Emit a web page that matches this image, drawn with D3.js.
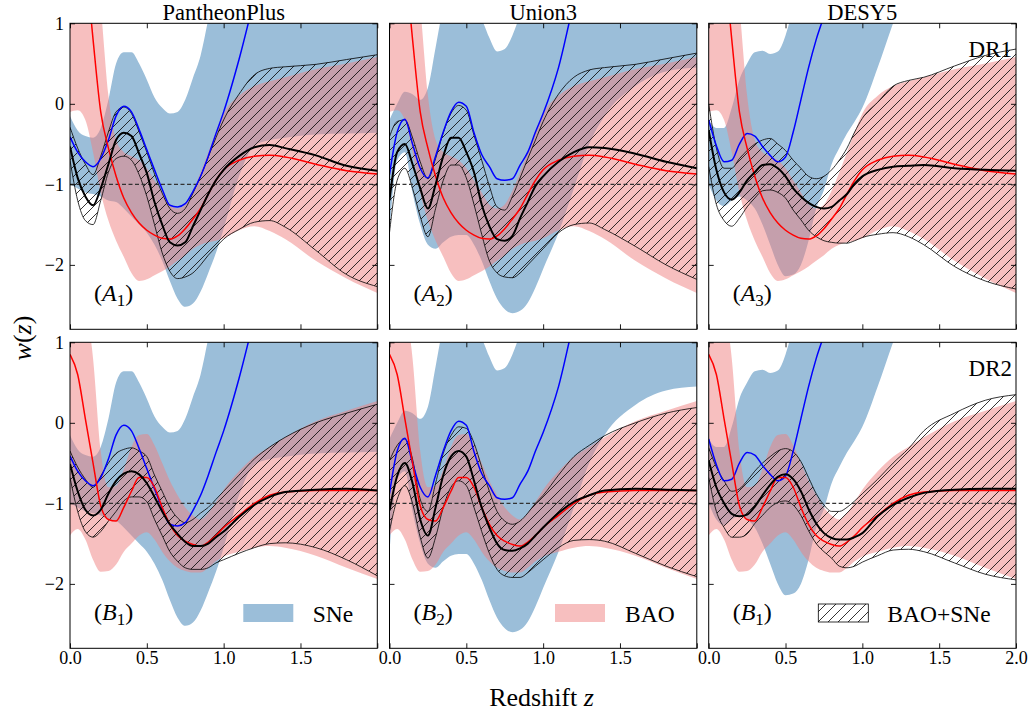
<!DOCTYPE html>
<html><head><meta charset="utf-8">
<script src="https://cdn.jsdelivr.net/npm/d3@7"></script>
<style>
body{margin:0;background:#fff;}
svg text{font-family:"Liberation Serif","Times New Roman",serif;fill:#000;}
</style></head><body>
<svg id="chart" width="1033" height="717"></svg>
<script>
// redshift grid shared by every series
const Z = [0,0.05,0.1,0.15,0.2,0.25,0.3,0.35,0.4,0.45,0.5,0.55,0.6,0.65,0.7,0.75,0.8,0.85,0.9,0.95,1.0,1.1,1.2,1.3,1.4,1.6,1.8,2.0];

// ---- SNe only ----
const snePPlusHi   = [-0.15,-0.33,-0.4,-0.42,-0.3,0.05,0.5,0.64,0.64,0.5,0.3,0.08,-0.05,-0.12,-0.1,0.05,0.32,0.6,1.05,1.5,1.8,2,2,2,2,2,2,2];
const snePPlusLo   = [-1.0,-1.05,-1.1,-1.12,-1.15,-1.2,-1.22,-1.3,-1.4,-1.5,-1.6,-1.75,-1.95,-2.2,-2.42,-2.52,-2.48,-2.33,-2.1,-1.85,-1.55,-0.9,-0.52,-0.45,-0.42,-0.38,-0.37,-0.36];
const snePPlusMean = [-0.41,-0.6,-0.72,-0.78,-0.68,-0.45,-0.15,-0.03,-0.1,-0.32,-0.57,-0.82,-1.06,-1.26,-1.28,-1.24,-1.09,-0.9,-0.65,-0.37,-0.1,0.55,1.3,2.0,2.8,4,5,6];

const sneUnion3Hi   = [-0.2,0.0,0.15,0.12,0.05,0.2,0.7,1.2,1.5,1.5,1.4,1.2,1.05,0.82,0.65,0.68,0.85,1.1,1.3,1.5,1.5,1.5,1.5,1.5,1.5,1.5,1.5,1.5];
const sneUnion3Lo   = [-1.6,-0.7,-0.6,-1.1,-1.5,-1.75,-1.8,-1.72,-1.65,-1.63,-1.63,-1.75,-1.95,-2.2,-2.42,-2.55,-2.6,-2.57,-2.47,-2.28,-2.05,-1.6,-1.05,-0.5,-0.15,0.22,0.4,0.45];
const sneUnion3Mean = [-0.88,-0.35,-0.19,-0.5,-0.8,-0.92,-0.65,-0.35,-0.1,0.02,-0.03,-0.36,-0.63,-0.78,-0.93,-0.95,-0.93,-0.76,-0.6,-0.35,-0.12,0.45,1.25,1.9,2.5,3.5,4.5,5.5];

const sneDESY5Hi   = [-0.2,-0.3,-0.3,-0.05,0.3,0.5,0.64,0.66,0.62,0.65,0.85,1.2,1.6,2,2.5,2.5,2.5,2.5,2.5,2.5,2.5,2.5,2.5,2.5,2.5,2.5,2.5,2.5];
const sneDESY5Lo   = [-1.0,-1.2,-1.27,-1.2,-1.15,-1.2,-1.3,-1.5,-1.75,-2.0,-2.14,-2.12,-2.0,-1.7,-1.3,-1.07,-0.75,-0.55,-0.37,-0.22,-0.05,0.45,1.0,1.5,2.0,2.3,2.4,2.5];
const sneDESY5Mean = [-0.2,-0.52,-0.72,-0.7,-0.5,-0.37,-0.4,-0.53,-0.64,-0.72,-0.66,-0.35,0.05,0.45,0.8,1.1,1.5,2,2.5,3,3.5,4.5,5.5,6.5,7.5,9,10,11];

// ---- BAO only ----
const baoDR1Hi   = [4,4,3,2,1.2,0.1,-0.45,-0.6,-0.65,-0.7,-0.8,-0.95,-1.1,-1.25,-1.3,-1.25,-1.08,-0.85,-0.6,-0.35,-0.12,0.1,0.22,0.28,0.33,0.43,0.5,0.58];
const baoDR1Lo   = [-0.1,-0.08,-0.2,-0.6,-1.1,-1.45,-1.7,-1.9,-2.1,-2.2,-2.18,-2.13,-2.08,-2.02,-1.95,-1.88,-1.8,-1.75,-1.72,-1.7,-1.67,-1.57,-1.52,-1.58,-1.68,-1.95,-2.17,-2.35];
const baoDR1Mean = [3.8,2.8,1.8,0.8,-0.1,-0.55,-0.9,-1.17,-1.35,-1.48,-1.57,-1.63,-1.67,-1.68,-1.64,-1.55,-1.43,-1.3,-1.12,-0.95,-0.82,-0.7,-0.65,-0.64,-0.66,-0.75,-0.83,-0.87];

const baoDR2Hi   = [2.5,2.0,1.5,0.8,-0.35,-0.8,-0.78,-0.58,-0.3,-0.15,-0.14,-0.28,-0.5,-0.72,-0.9,-1.05,-1.15,-1.2,-1.12,-0.98,-0.83,-0.6,-0.42,-0.3,-0.18,0.02,0.15,0.27];
const baoDR2Lo   = [-1.4,-1.32,-1.45,-1.7,-1.85,-1.84,-1.76,-1.6,-1.5,-1.4,-1.36,-1.45,-1.6,-1.72,-1.8,-1.84,-1.86,-1.86,-1.8,-1.72,-1.66,-1.6,-1.55,-1.53,-1.55,-1.65,-1.8,-1.94];
const baoDR2Mean = [0.85,0.6,0.05,-0.5,-1.03,-1.2,-1.22,-1.05,-0.85,-0.68,-0.68,-0.8,-1.05,-1.26,-1.4,-1.47,-1.51,-1.53,-1.48,-1.4,-1.3,-1.15,-1.0,-0.9,-0.86,-0.84,-0.84,-0.84];

// ---- BAO+SNe ----
const combA1Hi   = [-0.29,-0.55,-0.75,-0.88,-0.65,-0.35,-0.1,-0.04,-0.12,-0.35,-0.6,-0.87,-1.11,-1.3,-1.36,-1.3,-1.11,-0.9,-0.66,-0.42,-0.2,0.12,0.36,0.44,0.46,0.49,0.55,0.61];
const combA1Lo   = [-0.7,-1.2,-1.45,-1.5,-1.2,-0.85,-0.68,-0.65,-0.7,-0.88,-1.15,-1.5,-1.85,-2.08,-2.17,-2.15,-2.1,-2.0,-1.88,-1.78,-1.68,-1.56,-1.47,-1.45,-1.53,-1.82,-2.12,-2.27];
const combA1Mean = [-0.53,-0.92,-1.15,-1.26,-1.05,-0.75,-0.45,-0.36,-0.4,-0.62,-0.86,-1.22,-1.5,-1.72,-1.76,-1.72,-1.52,-1.32,-1.12,-0.95,-0.82,-0.65,-0.54,-0.51,-0.55,-0.64,-0.77,-0.83];

const combA2Hi   = [-0.41,-0.22,-0.2,-0.42,-0.72,-0.93,-0.68,-0.36,-0.12,-0.02,-0.08,-0.39,-0.7,-1.02,-1.28,-1.32,-1.15,-0.92,-0.68,-0.45,-0.22,0.12,0.33,0.42,0.45,0.49,0.56,0.63];
const combA2Lo   = [-1.6,-0.95,-0.8,-1.05,-1.4,-1.65,-1.3,-0.95,-0.76,-0.76,-0.92,-1.25,-1.62,-1.95,-2.1,-2.15,-2.16,-2.1,-2.0,-1.9,-1.8,-1.6,-1.5,-1.48,-1.56,-1.77,-2.0,-2.18];
const combA2Mean = [-1.2,-0.6,-0.5,-0.75,-1.05,-1.3,-1.0,-0.65,-0.42,-0.42,-0.6,-0.85,-1.25,-1.52,-1.68,-1.7,-1.64,-1.42,-1.22,-1.02,-0.9,-0.72,-0.6,-0.54,-0.55,-0.62,-0.72,-0.8];

const combA3Hi   = [0.0,-0.55,-0.8,-0.8,-0.68,-0.58,-0.5,-0.45,-0.43,-0.5,-0.58,-0.7,-0.8,-0.9,-0.93,-0.9,-0.82,-0.7,-0.55,-0.35,-0.18,0.02,0.22,0.29,0.33,0.47,0.6,0.68];
const combA3Lo   = [-0.78,-1.25,-1.45,-1.52,-1.42,-1.28,-1.17,-1.08,-1.07,-1.1,-1.17,-1.32,-1.44,-1.57,-1.65,-1.7,-1.72,-1.73,-1.73,-1.7,-1.66,-1.62,-1.6,-1.65,-1.75,-2.02,-2.2,-2.3];
const combA3Mean = [-0.33,-0.82,-1.1,-1.19,-1.1,-0.95,-0.85,-0.76,-0.75,-0.8,-0.9,-1.05,-1.15,-1.23,-1.28,-1.3,-1.28,-1.2,-1.12,-0.99,-0.9,-0.82,-0.78,-0.77,-0.76,-0.8,-0.82,-0.83];

const combB1Hi   = [-0.35,-0.55,-0.7,-0.8,-0.66,-0.5,-0.38,-0.33,-0.31,-0.35,-0.42,-0.65,-0.85,-1.05,-1.18,-1.24,-1.2,-1.12,-1.05,-0.95,-0.85,-0.65,-0.45,-0.3,-0.18,0.0,0.12,0.23];
const combB1Lo   = [-0.68,-1.1,-1.35,-1.42,-1.35,-1.22,-1.1,-0.97,-0.92,-0.92,-0.98,-1.2,-1.4,-1.6,-1.72,-1.8,-1.82,-1.82,-1.8,-1.74,-1.7,-1.62,-1.55,-1.5,-1.49,-1.55,-1.7,-1.9];
const combB1Mean = [-0.51,-0.85,-1.08,-1.15,-1.08,-0.88,-0.72,-0.63,-0.6,-0.64,-0.75,-0.92,-1.1,-1.26,-1.38,-1.48,-1.53,-1.53,-1.5,-1.42,-1.35,-1.17,-1.02,-0.92,-0.86,-0.83,-0.82,-0.84];

const combB2Hi   = [-0.47,-0.28,-0.2,-0.45,-0.95,-1.1,-0.75,-0.38,-0.16,-0.05,-0.07,-0.25,-0.55,-0.85,-1.1,-1.22,-1.26,-1.22,-1.12,-1.0,-0.9,-0.65,-0.42,-0.28,-0.16,0.0,0.12,0.19];
const combB2Lo   = [-1.34,-0.95,-0.78,-1.0,-1.42,-1.68,-1.42,-1.05,-0.8,-0.72,-0.78,-1.05,-1.35,-1.62,-1.82,-1.9,-1.92,-1.92,-1.86,-1.78,-1.7,-1.55,-1.46,-1.45,-1.47,-1.62,-1.78,-1.91];
const combB2Mean = [-1.09,-0.66,-0.5,-0.75,-1.2,-1.4,-1.05,-0.65,-0.42,-0.35,-0.42,-0.72,-1.05,-1.3,-1.5,-1.58,-1.59,-1.56,-1.5,-1.4,-1.3,-1.12,-0.98,-0.9,-0.84,-0.82,-0.83,-0.84];

const combB3Hi   = [-0.31,-0.55,-0.72,-0.85,-0.82,-0.72,-0.6,-0.5,-0.42,-0.35,-0.32,-0.36,-0.48,-0.68,-0.88,-1.02,-1.1,-1.1,-1.05,-0.97,-0.88,-0.7,-0.5,-0.32,-0.1,0.12,0.28,0.35];
const combB3Lo   = [-0.68,-1.1,-1.3,-1.42,-1.42,-1.38,-1.25,-1.15,-1.05,-0.99,-0.97,-1.02,-1.15,-1.34,-1.5,-1.6,-1.68,-1.78,-1.8,-1.78,-1.73,-1.65,-1.58,-1.57,-1.6,-1.74,-1.88,-1.95];
const combB3Mean = [-0.47,-0.8,-1.0,-1.13,-1.16,-1.14,-1.04,-0.9,-0.77,-0.67,-0.64,-0.7,-0.85,-1.07,-1.25,-1.37,-1.43,-1.45,-1.45,-1.42,-1.37,-1.16,-1.02,-0.93,-0.87,-0.83,-0.82,-0.82];

// labels
const sneNames = ["PantheonPlus","Union3","DESY5"];
const releaseNames = ["DR1","DR2"];
const panelLetters = [["A","1"],["A","2"],["A","3"],["B","1"],["B","2"],["B","1"]];
const xTicks = [0,0.5,1.0,1.5,2.0];
const yTicks = [1,0,-1,-2];
const legendNames = ["SNe","BAO","BAO+SNe"];

// ---- assemble ----
const sneSets = [
  {lo:snePPlusLo, hi:snePPlusHi, mean:snePPlusMean},
  {lo:sneUnion3Lo, hi:sneUnion3Hi, mean:sneUnion3Mean},
  {lo:sneDESY5Lo, hi:sneDESY5Hi, mean:sneDESY5Mean}];
const baoSets = [
  {lo:baoDR1Lo, hi:baoDR1Hi, mean:baoDR1Mean},
  {lo:baoDR2Lo, hi:baoDR2Hi, mean:baoDR2Mean}];
const combSets = [
  {lo:combA1Lo, hi:combA1Hi, mean:combA1Mean},
  {lo:combA2Lo, hi:combA2Hi, mean:combA2Mean},
  {lo:combA3Lo, hi:combA3Hi, mean:combA3Mean},
  {lo:combB1Lo, hi:combB1Hi, mean:combB1Mean},
  {lo:combB2Lo, hi:combB2Hi, mean:combB2Mean},
  {lo:combB3Lo, hi:combB3Hi, mean:combB3Mean}];

const SNE_COLOR = "rgb(155,190,217)";
const BAO_COLOR = "#f08080";
const BAO_OPACITY = 0.5;

const svg = d3.select("#chart");
const LEFTS = [70, 389.5, 708.7];
const TOPS = [23.3, 342.3];
const PW = 307.3, PH = 306;

const defs = svg.append("defs");
const pat = defs.append("pattern").attr("id","hatch")
  .attr("patternUnits","userSpaceOnUse").attr("width",10).attr("height",10);
pat.append("path").attr("d","M-1,1 l2,-2 M0,10 l10,-10 M9,11 l2,-2")
  .attr("stroke","#000").attr("stroke-width",0.8).attr("fill","none");

const toPts = s => Z.map((z,i)=>({z, lo:s.lo[i], hi:s.hi[i], m:s.mean[i]}));

for (let p=0; p<6; p++){
  const r = Math.floor(p/3), c = p%3;
  const left = LEFTS[c], top = TOPS[r];
  const x = d3.scaleLinear().domain([0,2]).range([left, left+PW]);
  const y = d3.scaleLinear().domain([-2.8,1]).range([top+PH, top]);
  const area = d3.area().x(d=>x(d.z)).y0(d=>y(d.lo)).y1(d=>y(d.hi)).curve(d3.curveMonotoneX);
  const line = key => d3.line().x(d=>x(d.z)).y(d=>y(d[key])).curve(d3.curveMonotoneX);

  defs.append("clipPath").attr("id","clip"+p).append("rect")
    .attr("x",left).attr("y",top).attr("width",PW).attr("height",PH);
  const g = svg.append("g").attr("clip-path",`url(#clip${p})`);

  const sne = toPts(sneSets[c]), bao = toPts(baoSets[r]), comb = toPts(combSets[p]);

  g.append("path").datum(sne).attr("d",area).attr("fill",SNE_COLOR);
  g.append("path").datum(bao).attr("d",area).attr("fill",BAO_COLOR).attr("fill-opacity",BAO_OPACITY);
  g.append("path").datum(comb).attr("d",area).attr("fill","url(#hatch)");
  g.append("path").datum(comb).attr("d",line("hi")).attr("fill","none").attr("stroke","#000").attr("stroke-width",0.8);
  g.append("path").datum(comb).attr("d",line("lo")).attr("fill","none").attr("stroke","#000").attr("stroke-width",0.8);

  g.append("line").attr("x1",x(0)).attr("x2",x(2)).attr("y1",y(-1)).attr("y2",y(-1))
    .attr("stroke","#333").attr("stroke-width",1.1).attr("stroke-dasharray","4,2.5");

  g.append("path").datum(sne).attr("d",line("m")).attr("fill","none").attr("stroke","#0000ff").attr("stroke-width",1.5);
  g.append("path").datum(bao).attr("d",line("m")).attr("fill","none").attr("stroke","#ff0000").attr("stroke-width",1.5);
  g.append("path").datum(comb).attr("d",line("m")).attr("fill","none").attr("stroke","#000").attr("stroke-width",2);

  // axes (inward ticks on all sides)
  const fmtX = d3.format(".1f");
  const bottomLabels = r===1;
  const xb = d3.axisBottom(x).tickValues(xTicks).tickSizeInner(-5).tickSizeOuter(0).tickPadding(3)
    .tickFormat(d => (bottomLabels && (c===2 || d<2)) ? fmtX(d) : "");
  const xt = d3.axisTop(x).tickValues(xTicks).tickSizeInner(-5).tickSizeOuter(0).tickFormat("");
  const yl = d3.axisLeft(y).tickValues(yTicks).tickSizeInner(-5).tickSizeOuter(0).tickPadding(6)
    .tickFormat(d => c===0 ? (d<0 ? "\u2212"+Math.abs(d) : String(d)) : "");
  const yr = d3.axisRight(y).tickValues(yTicks).tickSizeInner(-5).tickSizeOuter(0).tickFormat("");
  const axes = [
    svg.append("g").attr("transform",`translate(0,${top+PH})`).call(xb),
    svg.append("g").attr("transform",`translate(0,${top})`).call(xt),
    svg.append("g").attr("transform",`translate(${left},0)`).call(yl),
    svg.append("g").attr("transform",`translate(${left+PW},0)`).call(yr)];
  axes.forEach(a=>{
    a.select(".domain").remove();
    a.selectAll("line").attr("stroke","#000").attr("stroke-width",0.9);
    a.selectAll("text").attr("font-family","Liberation Serif").attr("font-size",18).attr("fill","#000");
  });
  svg.append("rect").attr("x",left).attr("y",top).attr("width",PW).attr("height",PH)
    .attr("fill","none").attr("stroke","#000").attr("stroke-width",1);

  // panel label
  const t = svg.append("text").attr("x",left+24).attr("y",top+278).attr("font-size",24);
  t.append("tspan").text("(");
  t.append("tspan").attr("font-style","italic").text(panelLetters[p][0]);
  t.append("tspan").attr("font-size",17).attr("dy",5).text(panelLetters[p][1]);
  t.append("tspan").attr("dy",-5).text(")");

  if (r===0) svg.append("text").attr("x",left+PW/2).attr("y",20).attr("text-anchor","middle")
    .attr("font-size",22.5).text(sneNames[c]);
  if (c===2) svg.append("text").attr("x",left+PW-4).attr("y",top+33.5).attr("text-anchor","end")
    .attr("font-size",23).text(releaseNames[r]);
}

// legends in bottom row
const legY = 604, legH = 18, legW = 50;
const legX = [243.3, 555, 818.3];
const legText = [312.7, 625, 887.3];
svg.append("rect").attr("x",legX[0]).attr("y",legY).attr("width",legW).attr("height",legH).attr("fill",SNE_COLOR);
svg.append("rect").attr("x",legX[1]).attr("y",legY).attr("width",legW).attr("height",legH).attr("fill",BAO_COLOR).attr("fill-opacity",BAO_OPACITY);
svg.append("rect").attr("x",legX[2]).attr("y",legY).attr("width",legW).attr("height",legH).attr("fill","url(#hatch)").attr("stroke","#000").attr("stroke-width",0.8);
legendNames.forEach((n,i)=>svg.append("text").attr("x",legText[i]).attr("y",621.5).attr("font-size",23.5).text(n));

// axis titles
const xl = svg.append("text").attr("x",541.5).attr("y",706).attr("text-anchor","middle").attr("font-size",26);
xl.append("tspan").text("Redshift ");
xl.append("tspan").attr("font-style","italic").text("z");
const ylab = svg.append("text").attr("transform","translate(31,338) rotate(-90)").attr("text-anchor","middle").attr("font-size",26);
ylab.append("tspan").attr("font-style","italic").text("w");
ylab.append("tspan").text("(");
ylab.append("tspan").attr("font-style","italic").text("z");
ylab.append("tspan").text(")");
</script>
</body></html>
